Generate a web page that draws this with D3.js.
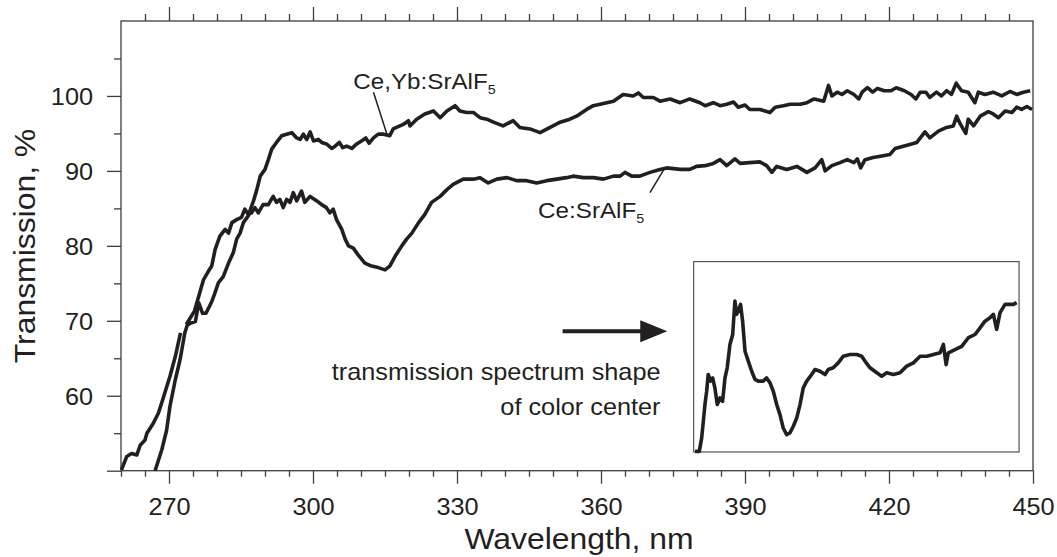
<!DOCTYPE html>
<html>
<head>
<meta charset="utf-8">
<script src="https://cdn.jsdelivr.net/npm/d3@7"></script>
<style>
body { margin: 0; background: #fff; }
svg { display: block; font-family: "Liberation Sans", Arial, sans-serif; }
</style>
</head>
<body>
<svg id="chart" width="1057" height="557"></svg>
<script>
// Ce:SrAlF5  (null = small break in the trace)
var ceWl = [260.1,261.2,262.2,263.3,264.0,265.0,265.4,266.7,267.8,268.8,270.2,271.3,272.4,272.9,
	273.6,275.3,276.3,277.2,278.2,278.9,279.6,280.6,281.7,282.4,283.1,284.1,285.1,285.8,286.5,287.2,
	287.9,288.6,289.6,290.7,291.7,292.4,293.1,293.8,294.5,295.2,295.9,296.6,297.6,298.3,299.4,300.8,
	301.8,302.8,303.5,304.2,304.9,306.0,306.7,307.4,308.4,309.4,310.8,312.2,313.6,315.0,316.0,317.1,
	318.5,319.5,320.6,322.0,323.3,324.7,326.5,327.9,329.2,331.3,333.4,334.8,336.5,338.3,340.4,342.4,
	344.5,346.6,348.7,350.8,352.8,354.2,356.3,358.4,360.5,362.6,364.0,365.0,366.4,368.1,370.2,372.3,
	373.7,376.5,378.5,379.9,381.7,383.4,384.8,386.2,387.9,389.0,391.0,393.1,394.5,395.6,396.6,398.7,
	400.8,402.9,404.6,406.0,406.7,408.1,409.8,411.3,412.7,413.4,414.1,415.0,416.7,418.5,420.2,421.3,
	423.0,424.7,425.8,427.5,428.5,430.3,432.0,433.4,434.1,434.9,436.0,436.5,437.6,439.0,440.7,441.7,
	442.8,444.2,445.6,446.6,447.6,448.7,449.8];
var ceT = [50.1,51.9,52.3,52.1,53.4,54.1,55.0,56.3,57.7,59.7,62.6,65.2,68.4,null,
	69.5,71.3,73.5,75.5,76.6,77.3,79.5,81.3,82.2,81.7,83.1,83.5,83.8,84.9,84.2,84.4,
	85.1,84.4,85.5,85.5,86.6,85.8,86.2,85.1,86.2,85.8,87.1,86.0,87.3,85.8,86.6,86.0,
	85.5,85.1,84.4,84.9,83.5,82.2,80.9,80.0,79.7,78.8,77.7,77.3,77.1,76.8,77.3,78.6,
	80.0,80.9,81.7,83.1,84.2,85.8,86.6,87.5,88.2,88.9,88.9,89.1,88.4,88.9,89.1,88.7,
	88.7,88.4,88.7,88.9,89.1,89.3,89.1,89.1,88.9,89.3,89.3,89.8,89.3,89.3,89.8,90.2,
	90.4,90.2,90.2,90.6,90.7,91.0,91.5,90.7,91.6,91.0,91.1,91.2,90.7,89.8,90.6,90.2,
	90.6,89.8,90.4,91.5,90.0,90.7,91.1,91.5,91.1,91.6,90.4,91.5,91.8,92.0,92.2,93.0,
	93.3,93.6,93.8,95.2,94.4,95.3,95.8,96.0,97.3,96.2,95.0,96.9,96.0,97.3,97.9,97.6,
	97.1,98.0,97.8,98.5,98.2,98.6,98.2];

// Ce,Yb:SrAlF5
var cybWl = [267.1,268.5,269.5,270.2,271.3,272.3,273.3,273.8,274.5,275.5,276.2,277.0,277.7,278.8,
	279.5,280.3,281.3,282.4,283.4,284.1,284.8,285.5,286.5,287.6,288.3,289.0,290.0,290.7,291.4,292.4,
	293.5,294.5,295.6,296.6,297.3,298.0,298.7,299.4,300.1,301.1,301.8,302.8,303.9,304.6,305.5,306.2,
	307.0,308.1,309.1,310.1,311.0,311.7,312.6,313.6,314.7,316.0,316.7,318.8,319.9,320.2,321.6,323.3,
	325.1,326.5,327.9,329.6,330.6,332.0,333.4,334.8,336.2,337.6,339.6,341.7,343.1,345.2,347.3,349.4,
	351.5,353.5,354.9,357.0,358.4,359.8,361.2,362.6,364.6,366.7,367.8,368.8,370.9,372.3,374.4,376.5,
	378.5,380.6,381.7,383.4,384.8,386.2,387.6,388.6,390.0,391.0,393.1,395.2,396.3,398.0,399.4,401.5,
	402.9,404.4,406.4,407.4,408.1,409.2,410.2,411.3,412.7,413.7,414.4,415.5,416.6,417.6,419.0,420.4,
	421.5,423.2,424.6,425.6,426.5,427.7,428.5,429.9,430.9,432.0,433.0,434.0,435.1,436.5,437.9,438.6,
	440.0,441.7,443.5,445.2,446.6,448.0,449.4];
var cybT = [50.0,52.8,55.4,58.6,62.1,64.8,68.4,69.4,69.7,69.9,72.4,71.0,71.0,72.4,
	73.6,75.1,75.9,77.7,79.1,80.9,81.7,83.1,84.0,86.0,87.5,89.3,90.2,91.5,92.9,93.8,
	94.7,94.9,95.1,94.4,94.2,94.9,94.2,95.2,94.0,94.2,93.8,93.6,93.0,93.3,93.8,93.1,
	93.3,93.0,93.6,94.0,94.4,93.7,94.4,94.9,94.9,94.7,95.6,96.2,96.7,96.0,96.9,97.6,
	98.0,97.1,98.0,98.7,98.0,97.8,97.8,97.1,96.9,96.5,96.0,96.7,95.8,95.6,95.1,95.8,
	96.5,96.9,97.3,98.2,98.7,98.9,99.1,99.3,100.2,100.0,100.4,99.8,99.8,99.3,99.6,99.1,
	99.6,99.1,98.7,99.1,98.7,98.9,99.2,98.5,98.8,98.2,98.2,97.8,98.5,98.7,98.9,98.9,
	99.1,99.6,99.3,101.4,100.0,100.5,100.2,100.7,100.2,99.6,100.5,101.1,100.5,101.0,100.7,100.7,
	101.1,100.7,100.2,99.6,100.5,100.5,99.8,100.5,100.0,100.7,100.2,101.7,100.7,100.5,99.1,100.5,
	100.2,100.5,100.0,100.6,100.2,100.5,100.7];

// inset: color centre spectrum shape (arbitrary units)
var insetWl = [260.8,263.3,264.7,266.6,267.6,268.5,269.9,271.1,272.4,273.8,275.4,276.9,278.3,279.6,
	281.2,282.8,284.1,285.1,286.0,287.4,288.6,290.0,291.9,293.9,295.8,297.7,300.6,302.6,304.6,306.5,
	308.5,310.4,312.3,314.3,316.2,318.2,320.2,322.1,324.0,326.0,328.9,330.8,333.8,336.7,338.6,341.5,
	344.4,347.4,351.3,355.2,358.1,361.0,363.0,366.9,369.8,372.7,376.6,380.5,384.4,388.3,392.2,396.1,
	400.0,403.9,405.8,407.4,408.7,412.6,416.5,420.4,424.3,427.2,430.1,433.0,435.0,436.9,438.9,441.8,
	444.7,446.7,448.6];
var insetVal = [0.3,0.3,7.4,24.9,31.9,40.7,37.2,38.9,33.7,24.9,28.4,26.6,38.9,44.2,
	56.5,61.7,79.3,72.3,74.0,77.5,68.7,52.9,47.7,42.4,38.1,37.2,37.2,38.9,36.3,31.9,
	24.9,19.6,12.6,9.1,10.0,13.5,17.9,24.9,33.7,37.2,40.7,43.3,42.4,40.7,43.3,44.2,
	46.8,50.3,51.2,51.2,50.3,46.5,44.2,41.6,39.8,41.6,40.7,41.6,45.1,46.8,50.3,50.3,
	51.2,52.1,56.5,45.9,52.1,53.8,55.5,60.0,61.7,65.2,68.7,70.5,72.3,64.4,73.2,77.5,
	77.5,77.5,78.4];

var xMajor = [270,300,330,360,390,420,450];
var yMajor = [50,60,70,80,90,100];
var yLabels = [60,70,80,90,100];

var ink = '#231f20', frameCol = '#3c3c3c', sx = 1.1;

var svg = d3.select('#chart');
var x = d3.scaleLinear().domain([260,450]).range([121,1033]);
var y = d3.scaleLinear().domain([50,110]).range([470.7,21]);

// stretched text helper (the original lettering is a bit wide)
function label(g, px, py, txt, size, anchor, rot) {
	var t = g.append('text')
		.attr('transform', 'translate(' + px + ',' + py + ')' + (rot ? ' rotate(' + rot + ')' : '') + ' scale(' + sx + ',1)')
		.attr('font-size', size)
		.attr('fill', ink)
		.attr('text-anchor', anchor || 'start')
		.text(txt);
	return t;
}

////////////////////////////////////////////////////////////////
//  axes
////////////////////////////////////////////////////////////////
var minorX = d3.range(260, 450, 5).filter(function (d) { return d % 30 != 0; });
var minorY = d3.range(55, 110, 5).filter(function (d) { return d % 10 != 0; });

function styleAxis(g) {
	g.select('.domain').remove();
	g.selectAll('line').attr('stroke', frameCol).attr('stroke-width', 1.3);
	g.selectAll('text').attr('fill', ink).attr('font-family', '"Liberation Sans", Arial, sans-serif');
}

// bottom
svg.append('g').attr('transform', 'translate(0,' + y(50) + ')')
	.call(d3.axisBottom(x).tickValues(minorX).tickSize(6).tickFormat(''))
	.call(styleAxis);
var bx = svg.append('g').attr('transform', 'translate(0,' + y(50) + ')')
	.call(d3.axisBottom(x).tickValues(xMajor).tickSize(13).tickPadding(15).tickFormat(d3.format('d')))
	.call(styleAxis);
bx.selectAll('text').attr('font-size', 23).attr('transform', 'scale(' + sx + ',1)');

// top
svg.append('g').attr('transform', 'translate(0,' + y(110) + ')')
	.call(d3.axisTop(x).tickValues(minorX.filter(function (d) { return d > 260; })).tickSize(7).tickFormat(''))
	.call(styleAxis);
svg.append('g').attr('transform', 'translate(0,' + y(110) + ')')
	.call(d3.axisTop(x).tickValues(xMajor.filter(function (d) { return d < 450; })).tickSize(14).tickFormat(''))
	.call(styleAxis);

// left
svg.append('g').attr('transform', 'translate(' + x(260) + ',0)')
	.call(d3.axisLeft(y).tickValues(minorY).tickSize(7).tickFormat(''))
	.call(styleAxis);
var ly = svg.append('g').attr('transform', 'translate(' + x(260) + ',0)')
	.call(d3.axisLeft(y).tickValues(yMajor).tickSize(14).tickPadding(14)
		.tickFormat(function (d) { return yLabels.indexOf(d) >= 0 ? d : ''; }))
	.call(styleAxis);
ly.selectAll('text').attr('font-size', 23).attr('dy', '0.38em')
	.attr('transform', 'scale(' + sx + ',1)').attr('x', -28 / sx);

// frame
svg.append('rect')
	.attr('x', x(260)).attr('y', y(110))
	.attr('width', x(450) - x(260)).attr('height', y(50) - y(110))
	.attr('fill', 'none').attr('stroke', frameCol).attr('stroke-width', 1.3);

// titles
label(svg, 579, 549, 'Wavelength, nm', 29, 'middle');
label(svg, 35, 246, 'Transmission, %', 29, 'middle', -90);

////////////////////////////////////////////////////////////////
//  curves
////////////////////////////////////////////////////////////////
var line = d3.line()
	.defined(function (d) { return d[1] != null; })
	.x(function (d) { return x(d[0]); })
	.y(function (d) { return y(d[1]); });

var plot = svg.append('g');
plot.append('path').datum(d3.zip(ceWl, ceT))
	.attr('d', line).attr('fill', 'none').attr('stroke', ink)
	.attr('stroke-width', 3.6).attr('stroke-linejoin', 'round');
plot.append('path').datum(d3.zip(cybWl, cybT))
	.attr('d', line).attr('fill', 'none').attr('stroke', ink)
	.attr('stroke-width', 3.6).attr('stroke-linejoin', 'round');

// series labels + leaders
var t1 = label(svg, x(308.4), y(100.9), 'Ce,Yb:SrAlF', 22);
t1.append('tspan').attr('font-size', 13).attr('dy', 5).text('5');
svg.append('line')
	.attr('x1', x(312.6)).attr('y1', y(100.5)).attr('x2', x(315.4)).attr('y2', y(94.9))
	.attr('stroke', ink).attr('stroke-width', 1.5);

var t2 = label(svg, x(346.9), y(83.75), 'Ce:SrAlF', 22);
t2.append('tspan').attr('font-size', 13).attr('dy', 5).text('5');
svg.append('line')
	.attr('x1', x(370.2)).attr('y1', y(87.1)).attr('x2', x(373.3)).attr('y2', y(90.4))
	.attr('stroke', ink).attr('stroke-width', 1.5);

////////////////////////////////////////////////////////////////
//  inset + arrow
////////////////////////////////////////////////////////////////
var box = { w0: 379.3, w1: 447.1, t0: 52.5, t1: 77.9 };
var ix = d3.scaleLinear().domain([260,450]).range([x(box.w0), x(box.w1)]);
var iy = d3.scaleLinear().domain([0,100]).range([y(box.t0), y(box.t1)]);

svg.append('rect')
	.attr('x', x(box.w0)).attr('y', y(box.t1))
	.attr('width', x(box.w1) - x(box.w0)).attr('height', y(box.t0) - y(box.t1))
	.attr('fill', 'none').attr('stroke', '#555').attr('stroke-width', 1.2);

var iline = d3.line()
	.x(function (d) { return ix(d[0]); })
	.y(function (d) { return iy(d[1]); });
svg.append('path').datum(d3.zip(insetWl, insetVal))
	.attr('d', iline).attr('fill', 'none').attr('stroke', ink)
	.attr('stroke-width', 3.6).attr('stroke-linejoin', 'round');

// arrow pointing to the inset
var ay = y(68.6), ax0 = x(352), ax1 = x(373.8);
svg.append('line')
	.attr('x1', ax0).attr('y1', ay).attr('x2', ax1 - 24).attr('y2', ay)
	.attr('stroke', ink).attr('stroke-width', 4);
svg.append('path')
	.attr('d', 'M' + (ax1 - 27) + ',' + (ay - 11) + ' L' + ax1 + ',' + ay + ' L' + (ax1 - 27) + ',' + (ay + 11) + ' Z')
	.attr('fill', ink);

label(svg, x(372.4), y(62.1), 'transmission spectrum shape', 23, 'end');
label(svg, x(372.4), y(57.4), 'of color center', 23, 'end');
</script>
</body>
</html>
